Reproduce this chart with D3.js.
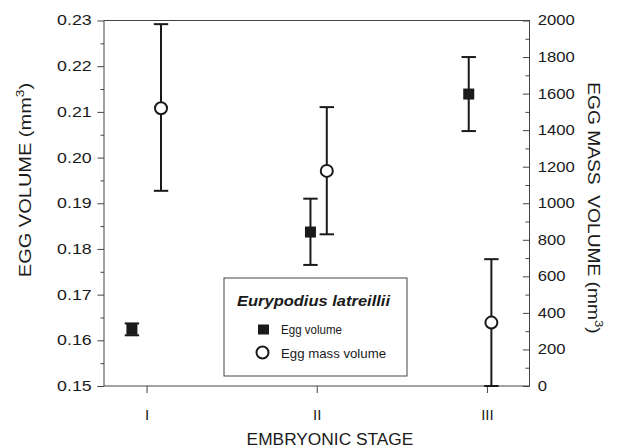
<!DOCTYPE html>
<html>
<head>
<meta charset="utf-8">
<script src="https://cdn.jsdelivr.net/npm/d3@7"></script>
<style>
  html, body { margin: 0; padding: 0; background: #fff; }
  svg { display: block; font-family: "Liberation Sans", Arial, Helvetica, sans-serif; }
</style>
</head>
<body>
<svg id="chart" width="618" height="448"></svg>
<script>
// ---- data ----
const stages = ["I", "II", "III"];
const stageValues = [1, 2, 3];
// Egg volume (left axis, mm^3)
const eggVolumeX = [0.914, 1.963, 2.893];
const eggVolume = [0.1624, 0.1837, 0.2139];
const eggVolumeLow = [0.1611, 0.1765, 0.2058];
const eggVolumeHigh = [0.1637, 0.1910, 0.2220];
// Egg mass volume (right axis, mm^3)
const eggMassX = [1.085, 2.059, 3.026];
const eggMass = [1520, 1177, 347];
const eggMassLow = [1068, 830, 0];
const eggMassHigh = [1980, 1526, 694];
// tick labels
const leftTicks = [0.15, 0.16, 0.17, 0.18, 0.19, 0.20, 0.21, 0.22, 0.23];
const leftMinor = [0.155, 0.165, 0.175, 0.185, 0.195, 0.205, 0.215, 0.225];
const rightTicks = [0, 200, 400, 600, 800, 1000, 1200, 1400, 1600, 1800, 2000];
const rightMinor = [100, 300, 500, 700, 900, 1100, 1300, 1500, 1700, 1900];

const svg = d3.select("#chart");
const L = 104, R = 529.5, T = 20.5, B = 386;
const ink = "#1a1a1a";

const x = d3.scaleLinear().domain([0.75, 3.25]).range([L, R]);
const yL = d3.scaleLinear().domain([0.15, 0.23]).range([B, T]);
const yR = d3.scaleLinear().domain([0, 2000]).range([B, T]);

function styleAxis(g) {
  g.select(".domain").remove();
  g.selectAll(".tick line").attr("stroke", "#444").attr("stroke-width", 1);
  g.selectAll(".tick text").attr("fill", ink);
}

// left axis
const gl = svg.append("g").attr("transform", `translate(${L},0)`)
  .call(d3.axisLeft(yL).tickValues(leftTicks).tickFormat(d3.format(".2f")).tickSize(6.6).tickPadding(6))
  .call(styleAxis);
gl.selectAll(".tick text").attr("font-size", 14)
  .attr("transform", "translate(-12.3,0) scale(1.27,1)").attr("x", 0);
svg.append("g").attr("transform", `translate(${L},0)`)
  .call(d3.axisLeft(yL).tickValues(leftMinor).tickFormat("").tickSize(3.5))
  .call(styleAxis);

// right axis
const gr = svg.append("g").attr("transform", `translate(${R},0)`)
  .call(d3.axisRight(yR).tickValues(rightTicks).tickFormat(d3.format("d")).tickSizeInner(-6.6).tickSizeOuter(0).tickPadding(8))
  .call(styleAxis);
gr.selectAll(".tick text").attr("font-size", 14)
  .attr("transform", "translate(8.2,0) scale(1.19,1)").attr("x", 0);
svg.append("g").attr("transform", `translate(${R},0)`)
  .call(d3.axisRight(yR).tickValues(rightMinor).tickFormat("").tickSizeInner(-4).tickSizeOuter(0))
  .call(styleAxis);

// bottom axis
const gb = svg.append("g").attr("transform", `translate(0,${B})`)
  .call(d3.axisBottom(x).tickValues(stageValues).tickFormat((d, i) => stages[i]).tickSize(7).tickPadding(16.5))
  .call(styleAxis);
gb.selectAll(".tick text").attr("font-size", 15);

// frame
svg.append("rect").attr("x", L).attr("y", T).attr("width", R - L).attr("height", B - T)
  .attr("fill", "none").attr("stroke", "#444").attr("stroke-width", 1);

// error bars helper
function errorBars(xs, lo, hi, y) {
  const g = svg.append("g").attr("stroke", ink).attr("stroke-width", 2).attr("fill", "none");
  xs.forEach((xv, i) => {
    const cx = x(xv);
    g.append("line").attr("x1", cx).attr("x2", cx).attr("y1", y(lo[i])).attr("y2", y(hi[i]));
    g.append("line").attr("x1", cx - 7.2).attr("x2", cx + 7.2).attr("y1", y(lo[i])).attr("y2", y(lo[i]));
    g.append("line").attr("x1", cx - 7.2).attr("x2", cx + 7.2).attr("y1", y(hi[i])).attr("y2", y(hi[i]));
  });
}
errorBars(eggVolumeX, eggVolumeLow, eggVolumeHigh, yL);
errorBars(eggMassX, eggMassLow, eggMassHigh, yR);

// egg volume squares
svg.append("g").selectAll("rect").data(eggVolume).join("rect")
  .attr("x", (d, i) => x(eggVolumeX[i]) - 5.5).attr("y", d => yL(d) - 5.5)
  .attr("width", 11).attr("height", 11).attr("fill", ink);

// egg mass circles
svg.append("g").selectAll("circle").data(eggMass).join("circle")
  .attr("cx", (d, i) => x(eggMassX[i])).attr("cy", d => yR(d)).attr("r", 6)
  .attr("fill", "#fff").attr("stroke", ink).attr("stroke-width", 2);

// legend
const lg = svg.append("g");
lg.append("rect").attr("x", 224).attr("y", 278).attr("width", 183).attr("height", 98)
  .attr("fill", "#fff").attr("stroke", "#444").attr("stroke-width", 1);
lg.append("text").attr("x", 237).attr("y", 305.5).attr("font-size", 15)
  .attr("font-weight", "bold").attr("font-style", "italic").attr("fill", ink)
  .attr("textLength", 153).attr("lengthAdjust", "spacingAndGlyphs")
  .text("Eurypodius latreillii");
lg.append("rect").attr("x", 258).attr("y", 324.5).attr("width", 11).attr("height", 10).attr("fill", ink);
lg.append("circle").attr("cx", 262.5).attr("cy", 352.5).attr("r", 6)
  .attr("fill", "#fff").attr("stroke", ink).attr("stroke-width", 2);
lg.append("text").attr("x", 281).attr("y", 334).attr("font-size", 13).attr("fill", ink)
  .attr("textLength", 61).attr("lengthAdjust", "spacingAndGlyphs").text("Egg volume");
lg.append("text").attr("x", 281).attr("y", 357.5).attr("font-size", 13).attr("fill", ink)
  .attr("textLength", 105).attr("lengthAdjust", "spacingAndGlyphs").text("Egg mass volume");

// axis titles
const lt = svg.append("text").attr("transform", "translate(31,180) rotate(-90) scale(1.25,1)")
  .attr("text-anchor", "middle").attr("font-size", 16).attr("fill", ink);
lt.append("tspan").text("EGG VOLUME (mm");
lt.append("tspan").attr("font-size", 11).attr("dy", -7).text("3");
lt.append("tspan").attr("dy", 7).text(")");

const rt = svg.append("text").attr("transform", "translate(588,208) rotate(90) scale(1.2,1)")
  .attr("text-anchor", "middle").attr("font-size", 16).attr("fill", ink)
  .style("white-space", "pre");
rt.append("tspan").text("EGG MASS  VOLUME (mm");
rt.append("tspan").attr("font-size", 11).attr("dy", -7).text("3");
rt.append("tspan").attr("dy", 7).text(")");

svg.append("text").attr("transform", "translate(330,444.5) scale(1.05,1)")
  .attr("text-anchor", "middle").attr("font-size", 16.5).attr("fill", ink)
  .text("EMBRYONIC STAGE");
</script>
</body>
</html>
